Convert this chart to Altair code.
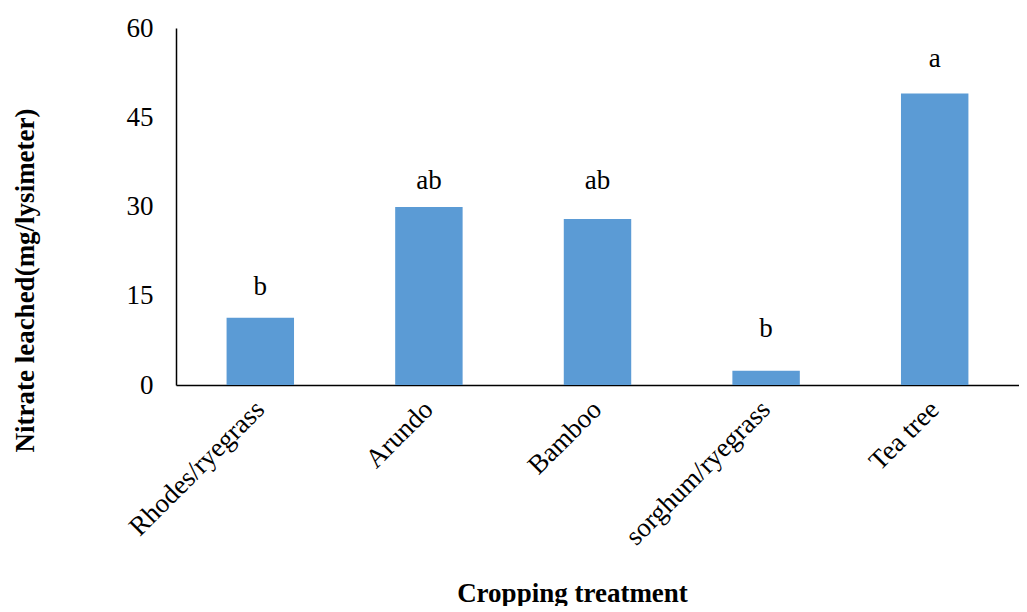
import altair as alt
import pandas as pd

categories = ["Rhodes/ryegrass", "Arundo", "Bamboo", "sorghum/ryegrass", "Tea tree"]
values = [11.3, 29.9, 27.9, 2.4, 49.0]
letters = ["b", "ab", "ab", "b", "a"]
letter_y = [14.1, 32.0, 32.0, 7.0, 52.4]

df = pd.DataFrame({"cat": categories, "val": values, "letter": letters, "ly": letter_y})

FONT = "Liberation Serif"
FS = 27

x = alt.X("cat:N", sort=categories,
          scale=alt.Scale(paddingInner=0.6, paddingOuter=0.3),
          axis=alt.Axis(title="Cropping treatment", labelAngle=-45, labelAlign="right",
                        labelBaseline="middle", labelPadding=20, ticks=False,
                        labelFont=FONT, labelFontSize=FS, labelColor="black",
                        titleFont=FONT, titleFontSize=FS, titleFontWeight="bold", titleColor="black",
                        titleX=396, titleY=208, titleBaseline="middle", titleAlign="center",
                        domainColor="black", domainWidth=1.5, labelLimit=0))

bars = alt.Chart(df).mark_bar(color="#5B9BD5").encode(
    x=x,
    y=alt.Y("val:Q", scale=alt.Scale(domain=[0, 60]),
            axis=alt.Axis(title="Nitrate leached(mg/lysimeter)", values=[0, 15, 30, 45, 60],
                          grid=False, ticks=False, labelPadding=23,
                          labelFont=FONT, labelFontSize=FS, labelColor="black",
                          titleFont=FONT, titleFontSize=FS, titleFontWeight="bold", titleColor="black",
                          titleX=-151, titleY=252, titleAngle=-90, titleBaseline="middle", titleAlign="center",
                          domainColor="black", domainWidth=1.5)),
)

text = alt.Chart(df).mark_text(font=FONT, fontSize=FS, baseline="bottom", color="black").encode(
    x=alt.X("cat:N", sort=categories),
    y=alt.Y("ly:Q"),
    text="letter:N",
)

chart = alt.layer(bars, text).properties(
    width=843, height=357,
    padding={"left": 2, "top": 6, "right": 0, "bottom": 0},
).configure_view(stroke=None)

chart.save("out.html", embed_options={"renderer": "svg", "actions": False})
